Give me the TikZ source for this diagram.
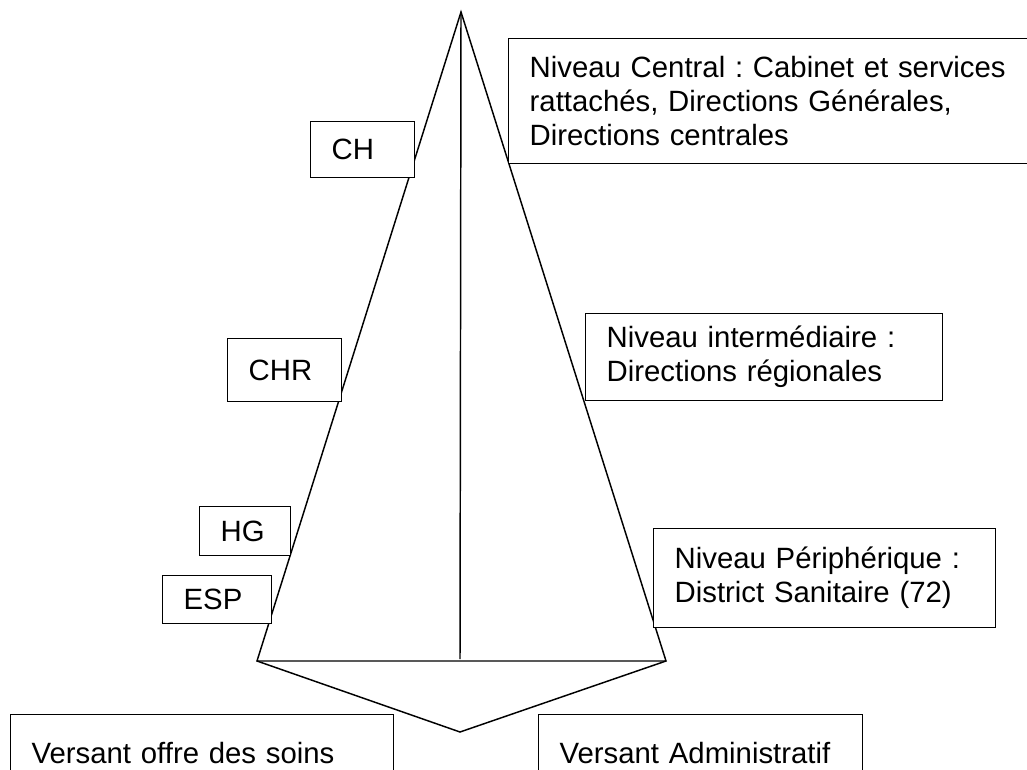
\documentclass[tikz,border=0pt]{standalone}
\usepackage{fontspec}
\setmainfont{Liberation Sans}
\frenchspacing
\tikzset{
  cadre/.style={draw,fill=white,line width=1pt,anchor=north west,align=left,
    inner xsep=15.75pt,inner ysep=0pt,font=\fontsize{22pt}{25.5pt}\selectfont},
}
\begin{document}
\begin{tikzpicture}[x=0.75pt,y=-0.75pt,line width=1.1pt]
\useasboundingbox (0,0) rectangle (1027,770);

% pyramide
\coordinate (sommet) at (461,12);
\coordinate (gauche) at (257,661);
\coordinate (droite) at (666,661);
\coordinate (milieu) at (460,659);
\coordinate (pointe) at (460,732);
\draw[line join=miter] (sommet) -- (gauche) -- (droite) -- cycle;
\draw (sommet) -- (milieu);
\draw (gauche) -- (pointe) -- (droite);

% versant offre des soins
\path (310,121) node[cadre,text width=46.5pt,minimum height=42pt](ch){CH};
\path (227,338) node[cadre,text width=54pt,minimum height=47.25pt](chr){CHR};
\path (199,506) node[cadre,text width=36.75pt,minimum height=36.75pt](hg){HG};
\path (162,575) node[cadre,text width=50.25pt,minimum height=36pt](esp){ESP};

% versant administratif
\path (508,38) node[cadre,text width=370pt,minimum height=93.75pt](central)
  {Niveau Central : Cabinet et services\\rattachés, Directions Générales,\\Directions centrales};
\path (585,313) node[cadre,text width=236.25pt,minimum height=65.25pt](interm)
  {Niveau intermédiaire :\\Directions régionales};
\path (653,528) node[cadre,text width=225pt,minimum height=74.25pt](periph)
  {Niveau Périphérique :\\District Sanitaire (72)\\[8pt]};

% les deux versants
\path (10,714) node[cadre,text width=255.75pt,minimum height=57pt](soins){Versant offre des soins};
\path (538,714) node[cadre,text width=211.5pt,minimum height=57pt](admin){Versant Administratif};

\end{tikzpicture}
\end{document}
